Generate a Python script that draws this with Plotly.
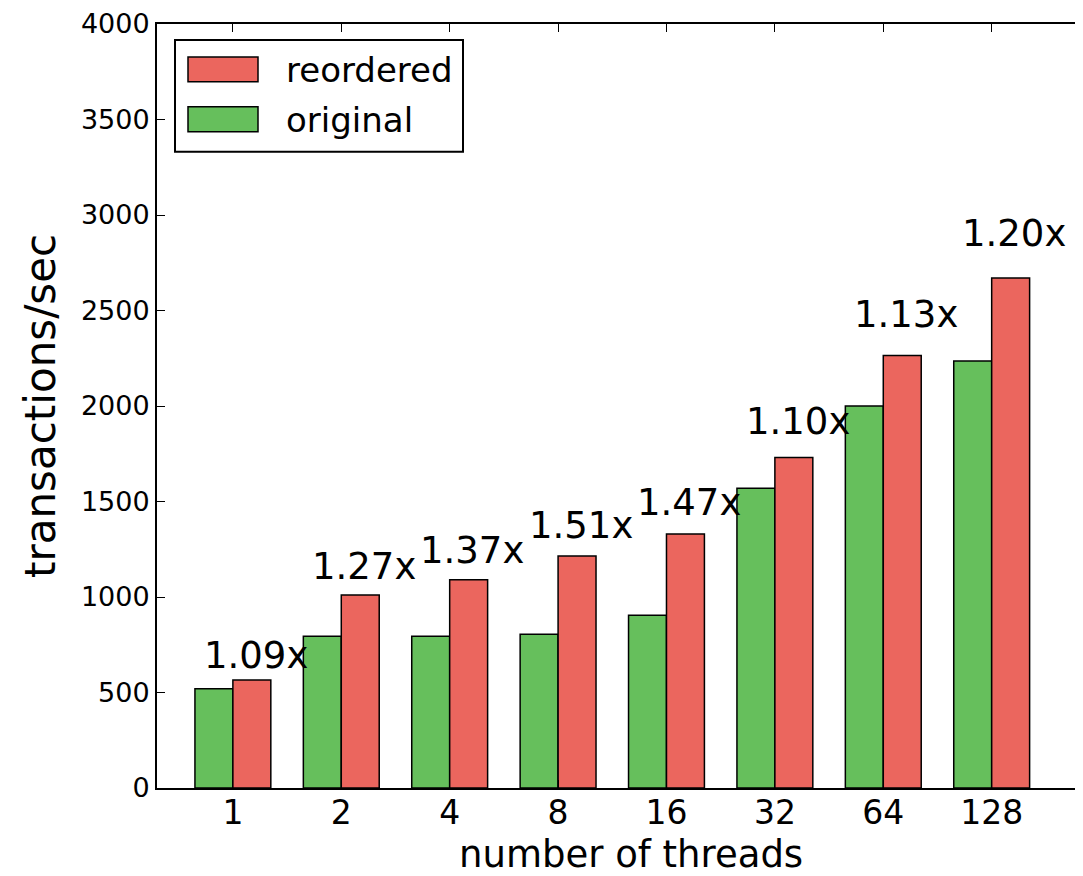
import plotly.graph_objects as go

threads = ["1", "2", "4", "8", "16", "32", "64", "128"]
original = [520, 795, 795, 805, 905, 1570, 2000, 2235]
reordered = [565, 1010, 1090, 1215, 1330, 1730, 2265, 2670]
speedups = ["1.09x", "1.27x", "1.37x", "1.51x", "1.47x", "1.10x", "1.13x", "1.20x"]

RED = "#EB665E"
GREEN = "#66BF5C"
FONT = "DejaVu Sans"
BW = 0.35

idx = list(range(len(threads)))
fig = go.Figure()
fig.add_trace(go.Bar(x=[i + BW / 2 for i in idx], y=original, width=BW, name="original",
                     marker=dict(color=GREEN, line=dict(color="black", width=1.5))))
fig.add_trace(go.Bar(x=[i + 1.5 * BW for i in idx], y=reordered, width=BW, name="reordered",
                     marker=dict(color=RED, line=dict(color="black", width=1.5))))

for i, (r, s) in enumerate(zip(reordered, speedups)):
    fig.add_annotation(x=i + 0.56, y=r * 1.05 + 100, text=s, showarrow=False,
                       xanchor="center", yanchor="middle",
                       font=dict(family=FONT, size=37, color="black"))

def px_x(p):
    return (p - 157) / 926

def px_y(p):
    return (788 - p) / 766

# axis titles
fig.add_annotation(xref="paper", yref="paper", x=px_x(40), y=0.5, text="transactions/sec",
                   textangle=-90, showarrow=False, xanchor="center", yanchor="middle",
                   font=dict(family=FONT, size=42, color="black"))
fig.add_annotation(xref="paper", yref="paper", x=px_x(631), y=px_y(855),
                   text="number of threads", showarrow=False, xanchor="center", yanchor="middle",
                   font=dict(family=FONT, size=37, color="black"))

# custom legend
fig.add_shape(type="rect", xref="paper", yref="paper", x0=px_x(175), x1=px_x(463),
              y0=px_y(150), y1=px_y(38), line=dict(color="black", width=2), fillcolor="white")
legend_items = [("reordered", RED, 55, 80, 68), ("original", GREEN, 105, 130, 118)]
for label, col, top, bot, cy in legend_items:
    fig.add_shape(type="rect", xref="paper", yref="paper", x0=px_x(188), x1=px_x(258),
                  y0=px_y(bot), y1=px_y(top), line=dict(color="black", width=1.5), fillcolor=col)
    fig.add_annotation(xref="paper", yref="paper", x=px_x(284), y=px_y(cy), text=label,
                       showarrow=False, xanchor="left", yanchor="middle",
                       font=dict(family=FONT, size=34, color="black"))

fig.update_layout(
    width=1075, height=868,
    margin=dict(l=149, r=0, t=14, b=88),
    paper_bgcolor="white", plot_bgcolor="white",
    barmode="overlay", showlegend=False,
    font=dict(family=FONT, color="black"),
    xaxis=dict(range=[-0.35, -0.35 + 926 / 108.4], tickvals=[i + BW for i in idx], ticktext=threads,
               showline=True, linecolor="black", linewidth=2, mirror="ticks",
               ticks="inside", ticklen=8, tickcolor="black", tickwidth=1,
               ticklabelstandoff=-6,
               showgrid=False, zeroline=False, tickfont=dict(family=FONT, size=33)),
    yaxis=dict(range=[0, 4000], tickvals=list(range(0, 4001, 500)),
               showline=True, linecolor="black", linewidth=2, mirror=False,
               ticks="inside", ticklen=8, tickcolor="black", tickwidth=1,
               ticklabeloverflow="allow",
               showgrid=False, zeroline=False, tickfont=dict(family=FONT, size=27)),
)

fig.write_html("out.html")
